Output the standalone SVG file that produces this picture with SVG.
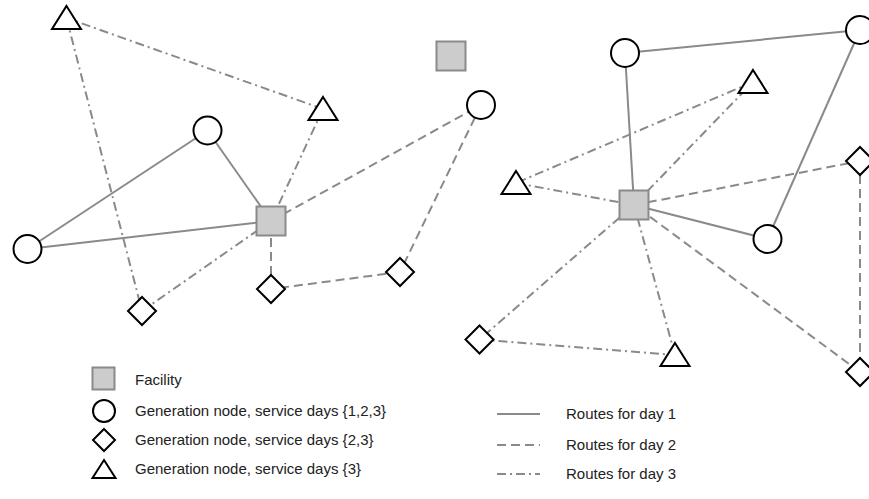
<svg xmlns="http://www.w3.org/2000/svg" width="869" height="499" viewBox="0 0 869 499">
<style>
.e{fill:none;stroke:#8a8a8a;stroke-width:2}
.d2{stroke-dasharray:9 5}
.d3{stroke-dasharray:9 4 2 4}
.fac{fill:#cccccc;stroke:#8a8a8a;stroke-width:2}
.n{fill:#fff;stroke:#000;stroke-width:2}
text{font-family:"Liberation Sans",Arial,Helvetica,sans-serif;font-size:15px;fill:#222}
</style>
<rect width="869" height="499" fill="#fff"/>
<g id="connectors">
<!-- left day1 -->
<line class="e" x1="27.5" y1="249" x2="207.5" y2="130.5"/>
<line class="e" x1="207.5" y1="130.5" x2="271" y2="221"/>
<line class="e" x1="27.5" y1="249" x2="271" y2="221"/>
<!-- left day2 -->
<line class="e d2" x1="271" y1="221" x2="481" y2="105"/>
<line class="e d2" x1="481" y1="105" x2="400" y2="272"/>
<line class="e d2" x1="400" y1="272" x2="271" y2="289"/>
<line class="e d2" x1="271" y1="289" x2="271" y2="221"/>
<!-- left day3 -->
<line class="e d3" x1="271" y1="221" x2="323" y2="109"/>
<line class="e d3" x1="323" y1="109" x2="66.5" y2="18"/>
<line class="e d3" x1="66.5" y1="18" x2="142" y2="311"/>
<line class="e d3" x1="142" y1="311" x2="271" y2="221"/>
<!-- right day1 -->
<line class="e" x1="634" y1="205" x2="625" y2="53"/>
<line class="e" x1="625" y1="53" x2="860" y2="30"/>
<line class="e" x1="860" y1="30" x2="767.5" y2="239"/>
<line class="e" x1="767.5" y1="239" x2="634" y2="205"/>
<!-- right day2 -->
<line class="e d2" x1="634" y1="205" x2="860" y2="161"/>
<line class="e d2" x1="860" y1="161" x2="860" y2="372"/>
<line class="e d2" x1="860" y1="372" x2="634" y2="205"/>
<!-- right day3 -->
<line class="e d3" x1="634" y1="205" x2="753" y2="82"/>
<line class="e d3" x1="753" y1="82" x2="516" y2="183"/>
<line class="e d3" x1="516" y1="183" x2="634" y2="205"/>
<line class="e d3" x1="634" y1="205" x2="479.5" y2="339.5"/>
<line class="e d3" x1="479.5" y1="339.5" x2="675" y2="355"/>
<line class="e d3" x1="675" y1="355" x2="634" y2="205"/>
</g>
<g id="F0"><rect class="fac" x="436.5" y="41.5" width="29" height="29"/></g>
<g id="F1"><rect class="fac" x="256.5" y="206.5" width="29" height="29"/></g>
<g id="F2"><rect class="fac" x="619.5" y="190.5" width="29" height="29"/></g>
<g id="C1"><circle class="n" cx="207.5" cy="130.5" r="14"/></g>
<g id="C2"><circle class="n" cx="27.5" cy="249" r="14"/></g>
<g id="C3"><circle class="n" cx="481" cy="105" r="14"/></g>
<g id="C4"><circle class="n" cx="625" cy="53" r="14"/></g>
<g id="C5"><circle class="n" cx="860" cy="30" r="14"/></g>
<g id="C6"><circle class="n" cx="767.5" cy="239" r="14"/></g>
<g id="D1"><polygon class="n" points="142,297 156,311 142,325 128,311"/></g>
<g id="D2"><polygon class="n" points="271,275 285,289 271,303 257,289"/></g>
<g id="D3"><polygon class="n" points="400,258 414,272 400,286 386,272"/></g>
<g id="D4"><polygon class="n" points="860,147 874,161 860,175 846,161"/></g>
<g id="D5"><polygon class="n" points="860,358 874,372 860,386 846,372"/></g>
<g id="D6"><polygon class="n" points="479.5,325.5 493.5,339.5 479.5,353.5 465.5,339.5"/></g>
<g id="T1"><polygon class="n" points="66.5,6 81,29 52,29"/></g>
<g id="T2"><polygon class="n" points="323,97 337.5,120 308.5,120"/></g>
<g id="T3"><polygon class="n" points="753,70 767.5,93 738.5,93"/></g>
<g id="T4"><polygon class="n" points="675,343 689.5,366 660.5,366"/></g>
<g id="T5"><polygon class="n" points="516,171 530.5,194 501.5,194"/></g>
<g id="legend">
<rect class="fac" x="92.5" y="367.5" width="22" height="22"/>
<text x="135" y="385">Facility</text>
<circle class="n" cx="104" cy="411" r="11"/>
<text x="135" y="416">Generation node, service days {1,2,3}</text>
<polygon class="n" points="104,429 115,440 104,451 93,440"/>
<text x="135" y="445">Generation node, service days {2,3}</text>
<polygon class="n" points="104,460 115.5,478 92.5,478"/>
<text x="135" y="474">Generation node, service days {3}</text>
<line class="e" x1="497" y1="414" x2="540" y2="414"/>
<text x="566" y="419">Routes for day 1</text>
<line class="e d2" x1="497" y1="445" x2="540" y2="445"/>
<text x="566" y="450">Routes for day 2</text>
<line class="e d3" x1="497" y1="474" x2="540" y2="474"/>
<text x="566" y="479">Routes for day 3</text>
</g>
</svg>
